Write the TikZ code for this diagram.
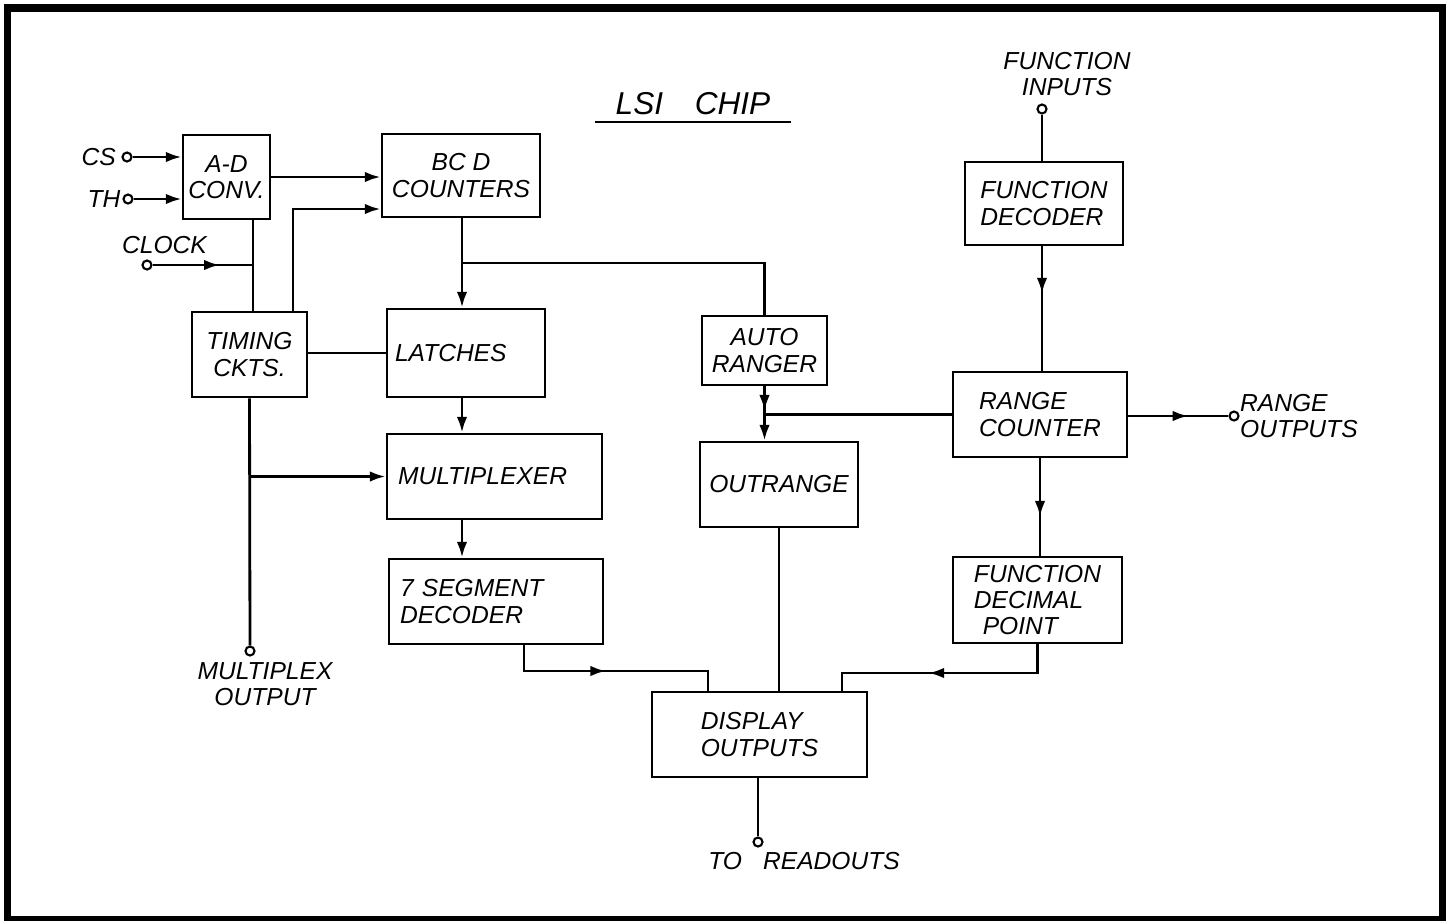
\documentclass[tikz,border=0pt]{standalone}
\usepackage{fontspec}
\setmainfont{Liberation Sans}
\usetikzlibrary{arrows.meta, decorations.markings}
\newcommand{\blockfont}{\itshape\fontsize{14}{15}\selectfont}
\tikzset{
  box/.style={draw, line width=1.6pt, inner sep=0pt, align=center, font=\blockfont},
  term/.style={circle, draw, fill=white, line width=1.2pt, minimum size=0.18cm, inner sep=0pt},
  lbl/.style={inner sep=1pt, font=\blockfont},
  wire/.style={line width=1.6pt},
  arr/.style={wire, -{Latex[length=9pt, width=6pt]}},
  midarrow/.style={wire, postaction={decorate},
    decoration={markings, mark=at position #1 with {\arrow{Latex[length=9pt, width=6pt]}}}}
}

\begin{document}
\begin{tikzpicture}[x=0.02cm, y=-0.02cm]
    \useasboundingbox (0,0) rectangle (1452,920);
    \draw[line width=4.5pt] (7.5,8) rectangle (1442.5,920);

    % title
    \node[anchor=south, inner xsep=0.4cm, inner ysep=4pt, font=\itshape\fontsize{18}{20}\selectfont]
        (title) at (693,122) {LSI\hspace{18pt}CHIP};
    \draw[wire] (title.south west) -- (title.south east);

    % blocks
    \node[box, minimum width=1.74cm, minimum height=1.68cm] (adc) at (226.5,177) {A-D\\CONV.};
    \node[box, minimum width=3.16cm, minimum height=1.66cm] (bcd) at (461,175.5) {BC D\\COUNTERS};
    \node[box, minimum width=2.30cm, minimum height=1.70cm] (timing) at (249.5,354.5) {TIMING\\CKTS.};
    \node[box, minimum width=3.16cm, minimum height=1.76cm, align=left, inner xsep=0.16cm, text width=2.84cm]
        (latches) at (466,353) {LATCHES};
    \node[box, minimum width=4.30cm, minimum height=1.70cm, align=left, inner xsep=0.22cm, text width=3.86cm]
        (mux) at (494.5,476.5) {MULTIPLEXER};
    \node[box, minimum width=4.28cm, minimum height=1.70cm, align=left, inner xsep=0.22cm, text width=3.84cm]
        (seg) at (496,601.5) {7 SEGMENT\\DECODER};
    \node[box, minimum width=2.50cm, minimum height=1.38cm] (autor) at (764.5,350.5) {AUTO\\RANGER};
    \node[box, minimum width=3.16cm, minimum height=1.70cm] (outr) at (779,484.5) {OUTRANGE};
    \node[box, minimum width=4.30cm, minimum height=1.70cm, align=left] (disp) at (759.5,734.5) {DISPLAY\\OUTPUTS};
    \node[box, minimum width=3.16cm, minimum height=1.66cm, align=left] (fd) at (1044,203.5) {FUNCTION\\DECODER};
    \node[box, minimum width=3.48cm, minimum height=1.70cm, align=left] (rc) at (1040,414.5) {RANGE\\COUNTER};
    \node[box, minimum width=3.38cm, minimum height=1.72cm, align=left]
        (fdp) at (1037.5,600) {FUNCTION\\DECIMAL\\\hspace*{5pt}POINT};

    % terminals
    \node[term, label={[lbl, label distance=2pt]left:CS}] (cs) at (127,157) {};
    \node[term, label={[lbl]left:TH}] (th) at (128,199) {};
    \node[term] (clk) at (147,265) {};
    \node[lbl, anchor=base west] (clklbl) at (120,253) {CLOCK};
    \node[term] (fin) at (1042,109) {};
    \node[lbl, align=center] (finlbl) at (1067,74) {FUNCTION\\INPUTS};
    \node[term] (rout) at (1234,416) {};
    \node[lbl, align=left, anchor=west] (routlbl) at (1238,416) {RANGE\\OUTPUTS};
    \node[term] (mout) at (250,651) {};
    \node[lbl, align=center] (moutlbl) at (265,684) {MULTIPLEX\\OUTPUT};
    \node[term] (tread) at (758,842) {};
    \node[lbl] (treadlbl) at (804,861) {TO\hspace{12pt}READOUTS};

    % junctions
    \coordinate (adcj) at (253,265);
    \coordinate (tbx) at (293,209);
    \coordinate (bcdj) at (462,263);
    \coordinate (sgj) at (524,671);
    \coordinate (dpl) at (708,671);
    \coordinate (fpj) at (842,673);

    % left side
    \draw[arr] (cs) -- (cs -| adc.west);
    \draw[arr] (th) -- (th -| adc.west);
    \draw[arr] (adc.east) -- (adc.east -| bcd.west);
    \draw[arr] (tbx |- timing.north) |- (bcd.west |- tbx);
    \draw[wire] (adcj |- adc.south) -- (adcj |- timing.north);
    \draw[midarrow=0.67] (clk) -- (adcj);
    \draw[wire] (timing.east |- latches) -- (latches.west);
    \draw[wire] (timing.south) -- (mout);
    \draw[arr] (mux -| timing.south) -- (mux.west);

    % counter chain
    \draw[arr] (bcdj |- bcd.south) -- (bcdj |- latches.north);
    \draw[wire] (bcdj) -| (autor.north);
    \draw[arr] (latches.south -| bcdj) -- (mux.north -| bcdj);
    \draw[arr] (mux.south -| bcdj) -- (seg.north -| bcdj);
    \draw[midarrow=0.47] (sgj |- seg.south) -- (sgj) -- (dpl) -- (dpl |- disp.north);

    % ranging
    \draw[arr, midarrow=0.45] (autor.south) -- (autor.south |- outr.north);
    \draw[wire] (rc.west) -- (rc.west -| autor.south);
    \draw[wire] (outr.south) -- (outr.south |- disp.north);
    \draw[wire] (disp.south -| tread) -- (tread);

    % function side
    \draw[wire] (fin) -- (fin |- fd.north);
    \draw[midarrow=0.38] (fin |- fd.south) -- (fin |- rc.north);
    \draw[midarrow=0.6] (rout -| rc.east) -- (rout);
    \draw[midarrow=0.6] (rc.south) -- (rc.south |- fdp.north);
    \draw[midarrow=0.57] (fdp.south) |- (fpj) -- (fpj |- disp.north);
\end{tikzpicture}
\end{document}
